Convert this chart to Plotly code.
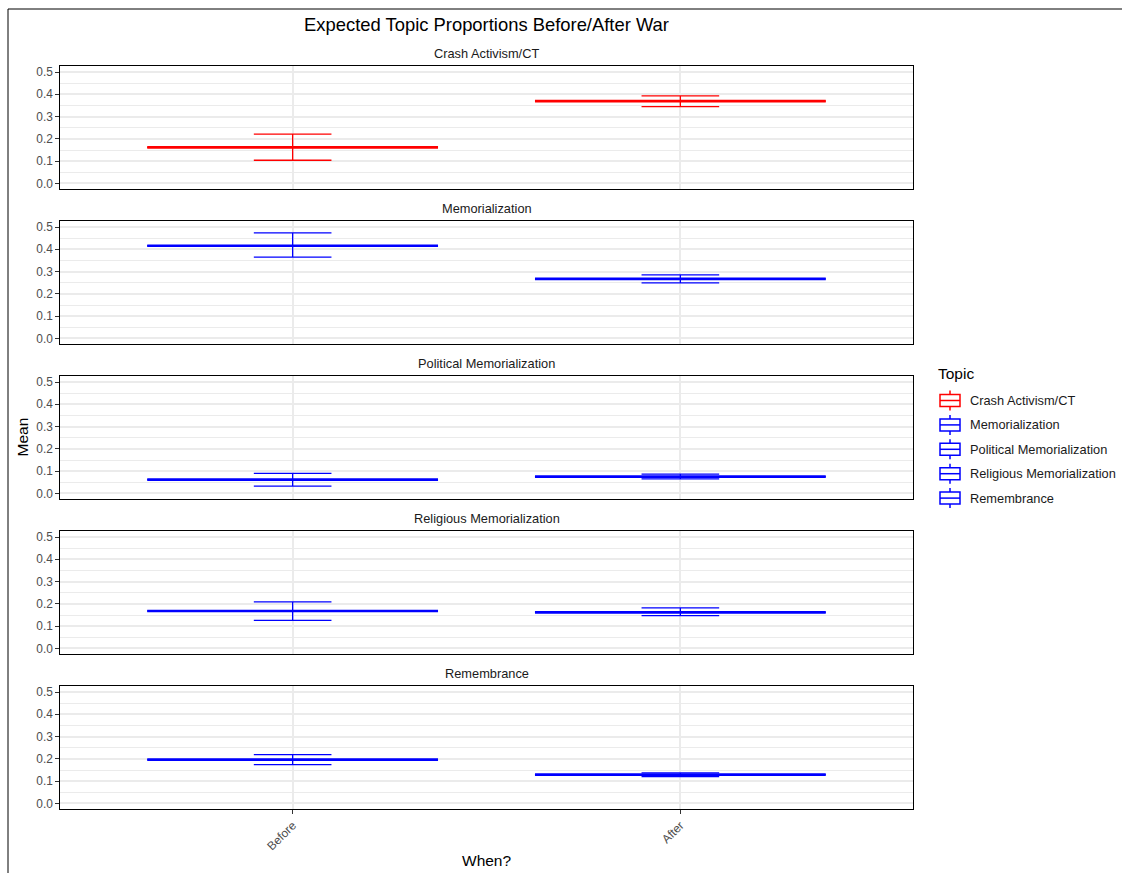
import plotly.graph_objects as go
from plotly.subplots import make_subplots

# Expected topic proportions with 95% intervals, before and after the war
topics = ["Crash Activism/CT", "Memorialization", "Political Memorialization",
          "Religious Memorialization", "Remembrance"]
periods = ["Before", "After"]

mean_before = [0.162, 0.416, 0.062, 0.168, 0.197]
lower_before = [0.104, 0.365, 0.033, 0.126, 0.174]
upper_before = [0.221, 0.474, 0.090, 0.209, 0.219]

mean_after = [0.369, 0.267, 0.075, 0.162, 0.129]
lower_after = [0.345, 0.249, 0.065, 0.147, 0.120]
upper_after = [0.393, 0.285, 0.087, 0.182, 0.137]

topic_colors = ["#FF0000", "#0000FF", "#0000FF", "#0000FF", "#0000FF"]
y_ticks = [0.0, 0.1, 0.2, 0.3, 0.4, 0.5]
y_tick_text = ["0.0", "0.1", "0.2", "0.3", "0.4", "0.5"]

FONT = "Liberation Sans, Arial, Helvetica, sans-serif"
W, H = 1122, 873
ML, MR, MT, MB = 60, 209, 66, 64
plot_w = W - ML - MR
plot_h = H - MT - MB
gap = 32


def px_x(px):
    """Horizontal pixel position -> paper coordinate."""
    return (px - ML) / plot_w


def px_y(py):
    """Vertical pixel position (from top) -> paper coordinate."""
    return (H - MB - py) / plot_h


fig = make_subplots(rows=len(topics), cols=1, shared_xaxes=True,
                    vertical_spacing=gap / plot_h)

for i, topic in enumerate(topics):
    means = [mean_before[i], mean_after[i]]
    lows = [lower_before[i], lower_after[i]]
    highs = [upper_before[i], upper_after[i]]
    color = topic_colors[i]
    # interval whiskers with caps
    fig.add_trace(go.Box(
        name=topic, legendgroup=topic, showlegend=False, x=periods,
        q1=means, median=means, q3=means,
        lowerfence=lows, upperfence=highs,
        width=0.75, whiskerwidth=0.267, boxpoints=False,
        line=dict(color=color, width=1.3),
        fillcolor="rgba(255,255,255,0)",
    ), row=i + 1, col=1)
    # heavier bar at the mean
    fig.add_trace(go.Box(
        name=topic, legendgroup=topic, showlegend=False, x=periods,
        q1=means, median=means, q3=means,
        lowerfence=means, upperfence=means,
        width=0.75, whiskerwidth=0, boxpoints=False,
        line=dict(color=color, width=2.7),
        fillcolor="rgba(255,255,255,0)",
    ), row=i + 1, col=1)

for i in range(len(topics)):
    r = i + 1
    bottom = r == len(topics)
    fig.update_yaxes(
        range=[-0.025, 0.527], tickvals=y_ticks, ticktext=y_tick_text,
        showgrid=True, gridcolor="#EBEBEB", gridwidth=1.6,
        minor=dict(dtick=0.05, tick0=0, showgrid=True,
                   gridcolor="#EBEBEB", gridwidth=0.8),
        zeroline=False, showline=True, mirror=True,
        linecolor="black", linewidth=1.3,
        ticks="outside", ticklen=3.65, tickwidth=1, tickcolor="#333333",
        tickfont=dict(family=FONT, size=11.9, color="#4D4D4D"),
        row=r, col=1)
    fig.update_xaxes(
        type="category", categoryorder="array", categoryarray=periods,
        range=[-0.6, 1.6],
        showgrid=True, gridcolor="#EBEBEB", gridwidth=1.6,
        zeroline=False, showline=True, mirror=True,
        linecolor="black", linewidth=1.3,
        ticks="outside" if bottom else "", ticklen=3.65, tickwidth=1,
        tickcolor="#333333", showticklabels=bottom, tickangle=-45,
        tickfont=dict(family=FONT, size=11.9, color="#4D4D4D"),
        row=r, col=1)

annotations = []
for i, topic in enumerate(topics):
    yaxis_name = "yaxis" if i == 0 else f"yaxis{i + 1}"
    top = fig.layout[yaxis_name].domain[1]
    annotations.append(dict(
        text=topic, x=0.5, y=top, xref="paper", yref="paper",
        xanchor="center", yanchor="bottom", yshift=3, showarrow=False,
        font=dict(family=FONT, size=12.8, color="#1A1A1A")))

annotations.append(dict(
    text="Mean", x=px_x(22), y=0.5, xref="paper", yref="paper",
    textangle=-90, xanchor="center", yanchor="middle", showarrow=False,
    font=dict(family=FONT, size=15.5, color="black")))
annotations.append(dict(
    text="When?", x=0.5, y=px_y(860), xref="paper", yref="paper",
    xanchor="center", yanchor="middle", showarrow=False,
    font=dict(family=FONT, size=15.5, color="black")))

# outer frame along the left and top edges
fx, fy = px_x(8), px_y(9)
shapes = [
    dict(type="line", xref="paper", yref="paper", x0=fx, y0=fy, x1=1.4, y1=fy,
         line=dict(color="black", width=1)),
    dict(type="line", xref="paper", yref="paper", x0=fx, y0=fy, x1=fx, y1=-0.2,
         line=dict(color="black", width=1)),
]

# legend: box-and-whisker keys for each topic
annotations.append(dict(
    text="Topic", x=px_x(936), y=px_y(374), xref="paper", yref="paper",
    xanchor="left", yanchor="middle", showarrow=False,
    font=dict(family=FONT, size=15.5, color="black")))
key_left, key_right, key_mid = 940, 960, 950
for k, topic in enumerate(topics):
    cy = 400.5 + 24.4 * k
    color = topic_colors[k]
    stroke = dict(color=color, width=1.5)
    shapes.append(dict(type="rect", xref="paper", yref="paper",
                       x0=px_x(key_left), x1=px_x(key_right),
                       y0=px_y(cy + 6), y1=px_y(cy - 6),
                       line=stroke, fillcolor="white"))
    shapes.append(dict(type="line", xref="paper", yref="paper",
                       x0=px_x(key_left), x1=px_x(key_right),
                       y0=px_y(cy), y1=px_y(cy), line=stroke))
    shapes.append(dict(type="line", xref="paper", yref="paper",
                       x0=px_x(key_mid), x1=px_x(key_mid),
                       y0=px_y(cy - 6), y1=px_y(cy - 10), line=stroke))
    shapes.append(dict(type="line", xref="paper", yref="paper",
                       x0=px_x(key_mid), x1=px_x(key_mid),
                       y0=px_y(cy + 6), y1=px_y(cy + 10), line=stroke))
    annotations.append(dict(
        text=topic, x=px_x(968), y=px_y(cy), xref="paper", yref="paper",
        xanchor="left", yanchor="middle", showarrow=False,
        font=dict(family=FONT, size=12.8, color="#1A1A1A")))

fig.update_layout(
    width=W, height=H,
    margin=dict(l=ML, r=MR, t=MT, b=MB),
    paper_bgcolor="white", plot_bgcolor="white",
    boxmode="overlay",
    showlegend=False,
    font=dict(family=FONT, color="black"),
    title=dict(text="Expected Topic Proportions Before/After War",
               x=0.5, xref="paper", xanchor="center",
               y=1 - 25 / H, yref="container", yanchor="middle",
               font=dict(family=FONT, size=18.4, color="black")),
    annotations=annotations,
    shapes=shapes,
    hovermode="closest",
)

fig.write_html("out.html")
